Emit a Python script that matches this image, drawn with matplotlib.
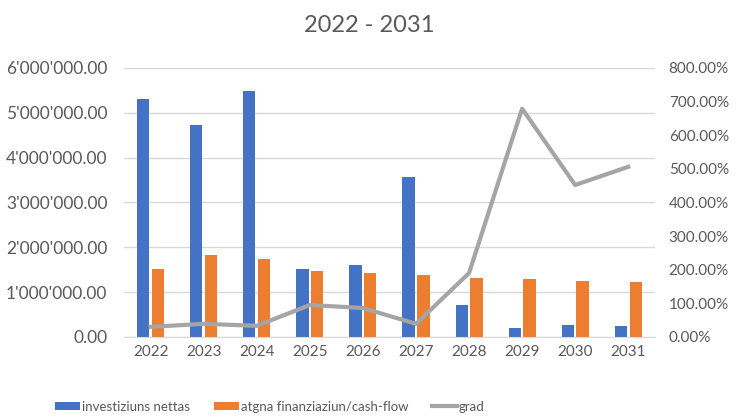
import numpy as np
import matplotlib
matplotlib.use("Agg")
import matplotlib.pyplot as plt
from matplotlib.ticker import FuncFormatter, MultipleLocator

years = ['2022', '2023', '2024', '2025', '2026', '2027', '2028', '2029', '2030', '2031']
investiziuns = [5310000, 4730000, 5490000, 1520000, 1600000, 3570000, 710000, 200000, 270000, 250000]
finanziaziun = [1520000, 1830000, 1740000, 1470000, 1430000, 1380000, 1320000, 1300000, 1250000, 1230000]
grad = [30, 39, 33, 95, 86, 39, 190, 679, 452, 506]  # percent

plt.rcParams['font.family'] = ['Lato', 'DejaVu Sans']
txt = '#595959'

fig = plt.figure(figsize=(7.39, 4.17), dpi=100)
ax = fig.add_axes([0.168, 0.192, 0.718, 0.645])
ax2 = ax.twinx()

x = np.arange(len(years))
w = 0.23
b1 = ax.bar(x - 0.14, investiziuns, w, color='#4472C4', label='investiziuns nettas', zorder=2)
b2 = ax.bar(x + 0.14, finanziaziun, w, color='#ED7D31', label='atgna finanziaziun/cash-flow', zorder=2)
l1, = ax2.plot(x, grad, color='#A5A5A5', lw=3, label='grad', zorder=3)

ax.set_ylim(0, 6000000)
ax.yaxis.set_major_locator(MultipleLocator(1000000))
ax.yaxis.set_major_formatter(FuncFormatter(lambda v, p: f"{v:,.2f}".replace(',', "'")))
ax2.set_ylim(0, 800)
ax2.yaxis.set_major_locator(MultipleLocator(100))
ax2.yaxis.set_major_formatter(FuncFormatter(lambda v, p: f"{v:.2f}%"))

ax.set_xlim(-0.5, len(years) - 0.5)
ax.set_xticks(x)
ax.set_xticklabels(years)
ax.grid(axis='y', color='#d9d9d9', lw=1, zorder=0)
ax.set_axisbelow(True)

for a in (ax, ax2):
    for s in a.spines.values():
        s.set_visible(False)
    a.tick_params(length=0, labelsize=11.5, colors=txt)
ax.tick_params(axis='y', labelsize=12.5, pad=12)
ax2.tick_params(axis='y', labelsize=11, pad=10)
ax.tick_params(axis='x', labelsize=11, pad=6)
ax.spines['bottom'].set_visible(True)
ax.spines['bottom'].set_color('#d9d9d9')

fig.suptitle('2022 - 2031', y=0.965, fontsize=17, color=txt)

fig.legend(handles=[b1, b2, l1], loc='lower left', bbox_to_anchor=(0.058, -0.018), ncol=3,
           frameon=False, fontsize=9.5, labelcolor=txt, handlelength=1.9, handleheight=0.65,
           handletextpad=0.15, columnspacing=1.8)

fig.savefig('out.png', dpi=100)
